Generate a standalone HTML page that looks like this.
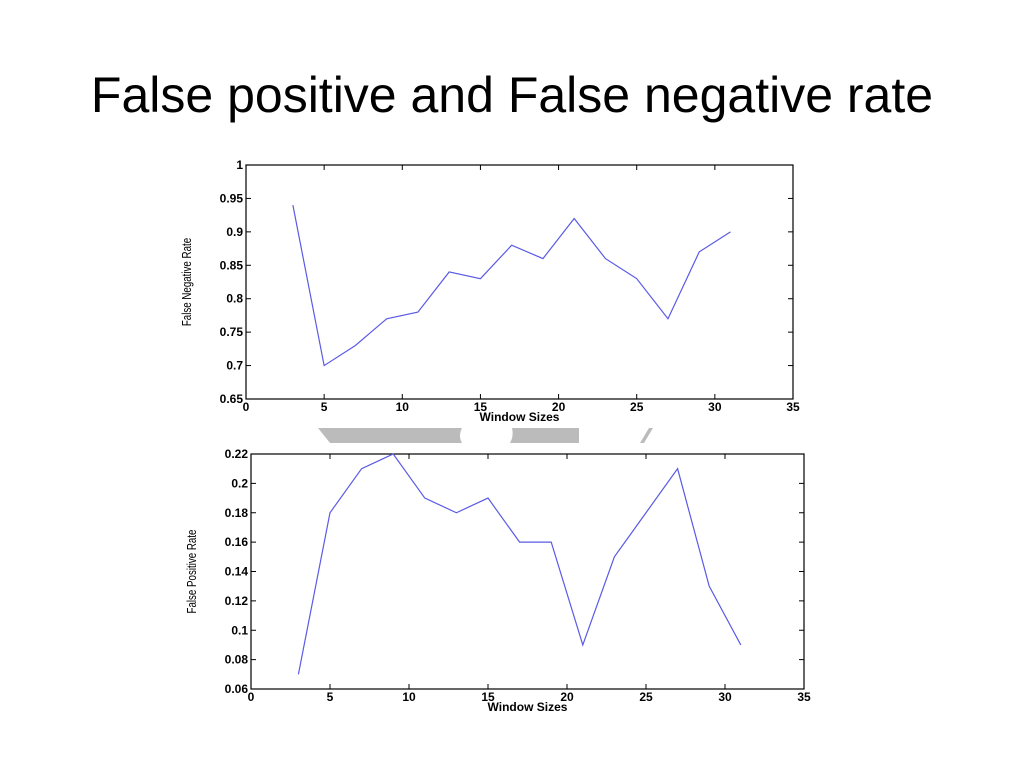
<!DOCTYPE html>
<html><head><meta charset="utf-8"><style>
body{margin:0;width:1024px;height:768px;background:#fff;overflow:hidden;font-family:"Liberation Sans",sans-serif}
h1{position:absolute;top:66px;left:0;width:1024px;text-align:center;margin:0;font-weight:normal;font-size:50px;color:#000}
svg{position:absolute;left:0;top:0}
</style></head><body>
<h1>False positive and False negative rate</h1>
<svg id="s" width="1024" height="768">
<path d="M318 428 L462 428 Q458 436 462 443 L330 443 Z" fill="#bbb"/>
<path d="M512 428 L579 428 L579 443 L510 443 Q514 436 512 428 Z" fill="#bbb"/>
<path d="M649 428 L653 428 L644 443 L640 443 Z" fill="#bbb"/>
</svg>
<script>
const xs=[3,5,7,9,11,13,15,17,19,21,23,25,27,29,31];
const fnr=[0.94,0.70,0.73,0.77,0.78,0.84,0.83,0.88,0.86,0.92,0.86,0.83,0.77,0.87,0.90];
const fpr=[0.07,0.18,0.21,0.22,0.19,0.18,0.19,0.16,0.16,0.09,0.15,0.18,0.21,0.13,0.09];
const xTicks=[0,5,10,15,20,25,30,35];
const yTicksTop=["0.65","0.7","0.75","0.8","0.85","0.9","0.95","1"];
const yTicksBot=["0.06","0.08","0.1","0.12","0.14","0.16","0.18","0.2","0.22"];
const NS="http://www.w3.org/2000/svg",svg=document.getElementById('s');
function mk(t,a,p){const e=document.createElementNS(NS,t);for(const k in a)e.setAttribute(k,a[k]);(p||svg).appendChild(e);return e;}
function chart(name,L,R,T,B,ymin,ymax,yt,data,ylabel){
 const g=mk('g',{});
 
 
 const X=v=>L+(v-0)/35*(R-L), Y=v=>B-(v-ymin)/(ymax-ymin)*(B-T);
 const box=mk('rect',{x:L,y:T,width:R-L,height:B-T,fill:'none',stroke:'#000','stroke-width':1.2},g);
 
 
 xTicks.forEach(t=>{const x=X(t);
  mk('line',{x1:x,x2:x,y1:B,y2:B-5,stroke:'#000'},g);mk('line',{x1:x,x2:x,y1:T,y2:T+5,stroke:'#000'},g);
  const tx=mk('text',{x:x,y:B+12,'font-size':12,'font-weight':'bold','text-anchor':'middle'},g);tx.textContent=t;
  
  });
 yt.forEach(s=>{const y=Y(+s);
  mk('line',{x1:L,x2:L+5,y1:y,y2:y,stroke:'#000'},g);mk('line',{x1:R,x2:R-5,y1:y,y2:y,stroke:'#000'},g);
  const tx=mk('text',{x:L-3,y:y+4,'font-size':12,'font-weight':'bold','text-anchor':'end'},g);tx.textContent=s;
  
  });
 const xl=mk('text',{x:(L+R)/2,y:B+22,'font-size':12,'font-weight':'bold','text-anchor':'middle'},g);xl.textContent='Window Sizes';
 
 
 const yl=mk('text',{x:0,y:0,'font-size':13,'text-anchor':'middle',transform:`translate(${L-55},${(T+B)/2}) rotate(-90) scale(0.75,1)`},g);yl.textContent=ylabel;
 
 
 const pl=mk('polyline',{points:xs.map((x,i)=>X(x)+','+Y(data[i])).join(' '),fill:'none',stroke:'#5a5ae6','stroke-width':1.2},g);
 
 
}
chart('false-negative-chart',246,793,165,399,0.65,1,yTicksTop,fnr,'False Negative Rate');
chart('false-positive-chart',251,804,454,689,0.06,0.22,yTicksBot,fpr,'False Positive Rate');
</script>
</body></html>
